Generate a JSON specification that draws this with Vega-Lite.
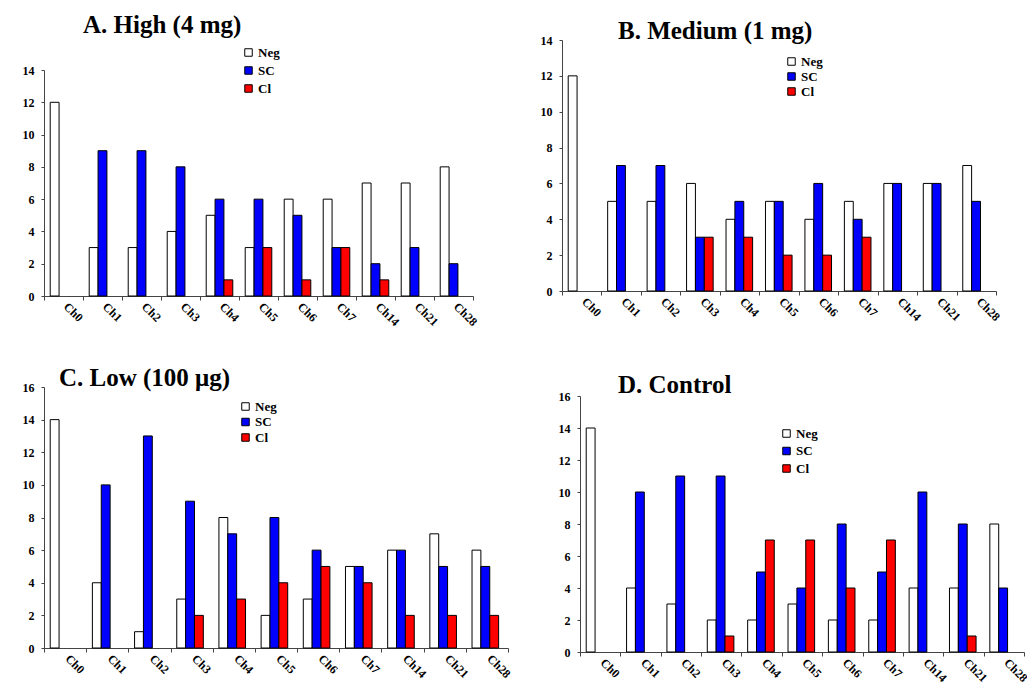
{
  "$schema": "https://vega.github.io/schema/vega-lite/v6.json",
  "background": "white",
  "padding": {"left": 22, "top": 13, "right": 0, "bottom": 0},
  "config": {
    "font": "Liberation Serif",
    "view": {"stroke": null},
    "axis": {"labelFont": "Liberation Serif", "labelFontWeight": "bold", "labelColor": "#000", "domainColor": "#444", "tickColor": "#444", "grid": false, "title": null},
    "axisX": {"labelAngle": 45, "labelAlign": "left", "labelBaseline": "bottom", "labelFontSize": 12, "labelPadding": 9, "labelOffset": -3, "tickBand": "extent", "tickSize": 4},
    "axisY": {"labelFontSize": 12, "tickSize": 3, "labelPadding": 7},
    "legend": {"orient": "none", "title": null, "symbolType": "square", "symbolSize": 56, "symbolStrokeColor": "#000", "symbolStrokeWidth": 1, "labelFont": "Liberation Serif", "labelFontWeight": "bold", "labelFontSize": 13, "labelColor": "#000", "labelOffset": 3, "padding": 0},
    "title": {"font": "Liberation Serif", "fontWeight": "bold", "fontSize": 25, "color": "#000", "anchor": "start", "frame": "group", "baseline": "alphabetic"},
    "bar": {"stroke": "#000", "strokeWidth": 1}
  },
  "datasets": {
    "counts": [
      {"panel": "A", "ch": "Ch0", "type": "Neg", "value": 12},
      {"panel": "A", "ch": "Ch1", "type": "Neg", "value": 3},
      {"panel": "A", "ch": "Ch1", "type": "SC", "value": 9},
      {"panel": "A", "ch": "Ch2", "type": "Neg", "value": 3},
      {"panel": "A", "ch": "Ch2", "type": "SC", "value": 9},
      {"panel": "A", "ch": "Ch3", "type": "Neg", "value": 4},
      {"panel": "A", "ch": "Ch3", "type": "SC", "value": 8},
      {"panel": "A", "ch": "Ch4", "type": "Neg", "value": 5},
      {"panel": "A", "ch": "Ch4", "type": "SC", "value": 6},
      {"panel": "A", "ch": "Ch4", "type": "Cl", "value": 1},
      {"panel": "A", "ch": "Ch5", "type": "Neg", "value": 3},
      {"panel": "A", "ch": "Ch5", "type": "SC", "value": 6},
      {"panel": "A", "ch": "Ch5", "type": "Cl", "value": 3},
      {"panel": "A", "ch": "Ch6", "type": "Neg", "value": 6},
      {"panel": "A", "ch": "Ch6", "type": "SC", "value": 5},
      {"panel": "A", "ch": "Ch6", "type": "Cl", "value": 1},
      {"panel": "A", "ch": "Ch7", "type": "Neg", "value": 6},
      {"panel": "A", "ch": "Ch7", "type": "SC", "value": 3},
      {"panel": "A", "ch": "Ch7", "type": "Cl", "value": 3},
      {"panel": "A", "ch": "Ch14", "type": "Neg", "value": 7},
      {"panel": "A", "ch": "Ch14", "type": "SC", "value": 2},
      {"panel": "A", "ch": "Ch14", "type": "Cl", "value": 1},
      {"panel": "A", "ch": "Ch21", "type": "Neg", "value": 7},
      {"panel": "A", "ch": "Ch21", "type": "SC", "value": 3},
      {"panel": "A", "ch": "Ch28", "type": "Neg", "value": 8},
      {"panel": "A", "ch": "Ch28", "type": "SC", "value": 2},

      {"panel": "B", "ch": "Ch0", "type": "Neg", "value": 12},
      {"panel": "B", "ch": "Ch1", "type": "Neg", "value": 5},
      {"panel": "B", "ch": "Ch1", "type": "SC", "value": 7},
      {"panel": "B", "ch": "Ch2", "type": "Neg", "value": 5},
      {"panel": "B", "ch": "Ch2", "type": "SC", "value": 7},
      {"panel": "B", "ch": "Ch3", "type": "Neg", "value": 6},
      {"panel": "B", "ch": "Ch3", "type": "SC", "value": 3},
      {"panel": "B", "ch": "Ch3", "type": "Cl", "value": 3},
      {"panel": "B", "ch": "Ch4", "type": "Neg", "value": 4},
      {"panel": "B", "ch": "Ch4", "type": "SC", "value": 5},
      {"panel": "B", "ch": "Ch4", "type": "Cl", "value": 3},
      {"panel": "B", "ch": "Ch5", "type": "Neg", "value": 5},
      {"panel": "B", "ch": "Ch5", "type": "SC", "value": 5},
      {"panel": "B", "ch": "Ch5", "type": "Cl", "value": 2},
      {"panel": "B", "ch": "Ch6", "type": "Neg", "value": 4},
      {"panel": "B", "ch": "Ch6", "type": "SC", "value": 6},
      {"panel": "B", "ch": "Ch6", "type": "Cl", "value": 2},
      {"panel": "B", "ch": "Ch7", "type": "Neg", "value": 5},
      {"panel": "B", "ch": "Ch7", "type": "SC", "value": 4},
      {"panel": "B", "ch": "Ch7", "type": "Cl", "value": 3},
      {"panel": "B", "ch": "Ch14", "type": "Neg", "value": 6},
      {"panel": "B", "ch": "Ch14", "type": "SC", "value": 6},
      {"panel": "B", "ch": "Ch21", "type": "Neg", "value": 6},
      {"panel": "B", "ch": "Ch21", "type": "SC", "value": 6},
      {"panel": "B", "ch": "Ch28", "type": "Neg", "value": 7},
      {"panel": "B", "ch": "Ch28", "type": "SC", "value": 5},

      {"panel": "C", "ch": "Ch0", "type": "Neg", "value": 14},
      {"panel": "C", "ch": "Ch1", "type": "Neg", "value": 4},
      {"panel": "C", "ch": "Ch1", "type": "SC", "value": 10},
      {"panel": "C", "ch": "Ch2", "type": "Neg", "value": 1},
      {"panel": "C", "ch": "Ch2", "type": "SC", "value": 13},
      {"panel": "C", "ch": "Ch3", "type": "Neg", "value": 3},
      {"panel": "C", "ch": "Ch3", "type": "SC", "value": 9},
      {"panel": "C", "ch": "Ch3", "type": "Cl", "value": 2},
      {"panel": "C", "ch": "Ch4", "type": "Neg", "value": 8},
      {"panel": "C", "ch": "Ch4", "type": "SC", "value": 7},
      {"panel": "C", "ch": "Ch4", "type": "Cl", "value": 3},
      {"panel": "C", "ch": "Ch5", "type": "Neg", "value": 2},
      {"panel": "C", "ch": "Ch5", "type": "SC", "value": 8},
      {"panel": "C", "ch": "Ch5", "type": "Cl", "value": 4},
      {"panel": "C", "ch": "Ch6", "type": "Neg", "value": 3},
      {"panel": "C", "ch": "Ch6", "type": "SC", "value": 6},
      {"panel": "C", "ch": "Ch6", "type": "Cl", "value": 5},
      {"panel": "C", "ch": "Ch7", "type": "Neg", "value": 5},
      {"panel": "C", "ch": "Ch7", "type": "SC", "value": 5},
      {"panel": "C", "ch": "Ch7", "type": "Cl", "value": 4},
      {"panel": "C", "ch": "Ch14", "type": "Neg", "value": 6},
      {"panel": "C", "ch": "Ch14", "type": "SC", "value": 6},
      {"panel": "C", "ch": "Ch14", "type": "Cl", "value": 2},
      {"panel": "C", "ch": "Ch21", "type": "Neg", "value": 7},
      {"panel": "C", "ch": "Ch21", "type": "SC", "value": 5},
      {"panel": "C", "ch": "Ch21", "type": "Cl", "value": 2},
      {"panel": "C", "ch": "Ch28", "type": "Neg", "value": 6},
      {"panel": "C", "ch": "Ch28", "type": "SC", "value": 5},
      {"panel": "C", "ch": "Ch28", "type": "Cl", "value": 2},

      {"panel": "D", "ch": "Ch0", "type": "Neg", "value": 14},
      {"panel": "D", "ch": "Ch1", "type": "Neg", "value": 4},
      {"panel": "D", "ch": "Ch1", "type": "SC", "value": 10},
      {"panel": "D", "ch": "Ch2", "type": "Neg", "value": 3},
      {"panel": "D", "ch": "Ch2", "type": "SC", "value": 11},
      {"panel": "D", "ch": "Ch3", "type": "Neg", "value": 2},
      {"panel": "D", "ch": "Ch3", "type": "SC", "value": 11},
      {"panel": "D", "ch": "Ch3", "type": "Cl", "value": 1},
      {"panel": "D", "ch": "Ch4", "type": "Neg", "value": 2},
      {"panel": "D", "ch": "Ch4", "type": "SC", "value": 5},
      {"panel": "D", "ch": "Ch4", "type": "Cl", "value": 7},
      {"panel": "D", "ch": "Ch5", "type": "Neg", "value": 3},
      {"panel": "D", "ch": "Ch5", "type": "SC", "value": 4},
      {"panel": "D", "ch": "Ch5", "type": "Cl", "value": 7},
      {"panel": "D", "ch": "Ch6", "type": "Neg", "value": 2},
      {"panel": "D", "ch": "Ch6", "type": "SC", "value": 8},
      {"panel": "D", "ch": "Ch6", "type": "Cl", "value": 4},
      {"panel": "D", "ch": "Ch7", "type": "Neg", "value": 2},
      {"panel": "D", "ch": "Ch7", "type": "SC", "value": 5},
      {"panel": "D", "ch": "Ch7", "type": "Cl", "value": 7},
      {"panel": "D", "ch": "Ch14", "type": "Neg", "value": 4},
      {"panel": "D", "ch": "Ch14", "type": "SC", "value": 10},
      {"panel": "D", "ch": "Ch21", "type": "Neg", "value": 4},
      {"panel": "D", "ch": "Ch21", "type": "SC", "value": 8},
      {"panel": "D", "ch": "Ch21", "type": "Cl", "value": 1},
      {"panel": "D", "ch": "Ch28", "type": "Neg", "value": 8},
      {"panel": "D", "ch": "Ch28", "type": "SC", "value": 4}
    ]
  },
  "data": {"name": "counts"},
  "resolve": {"scale": {"fill": "independent"}, "legend": {"fill": "independent"}},
  "spacing": 38,
  "vconcat": [
    {
      "spacing": 60,
      "resolve": {"scale": {"fill": "independent"}, "legend": {"fill": "independent"}},
      "hconcat": [
        {
          "title": {"text": "A. High (4 mg)", "offset": 2, "dx": 39},
          "width": 429, "height": 256,
          "transform": [{"filter": "datum.panel === 'A'"}],
          "mark": {"type": "bar"},
          "encoding": {
            "x": {"field": "ch", "type": "nominal", "scale": {"domain": ["Ch0","Ch1","Ch2","Ch3","Ch4","Ch5","Ch6","Ch7","Ch14","Ch21","Ch28"], "paddingInner": 0, "paddingOuter": 0}},
            "xOffset": {"field": "type", "type": "nominal", "scale": {"domain": ["Neg","SC","Cl"], "paddingInner": 0, "paddingOuter": 0.7}},
            "y": {"field": "value", "type": "quantitative", "scale": {"domain": [0, 14], "range": [256, 30]}, "axis": {"values": [0,2,4,6,8,10,12,14]}},
            "fill": {"field": "type", "type": "nominal", "scale": {"domain": ["Neg","SC","Cl"], "range": ["#ffffff","#0000ff","#ff0000"]}, "legend": {"legendX": 198, "legendY": 6, "rowPadding": 4}}
          }
        },
        {
          "title": {"text": "B. Medium (1 mg)", "offset": -10, "dx": 56},
          "width": 434, "height": 251,
          "transform": [{"filter": "datum.panel === 'B'"}],
          "mark": {"type": "bar"},
          "encoding": {
            "x": {"field": "ch", "type": "nominal", "scale": {"domain": ["Ch0","Ch1","Ch2","Ch3","Ch4","Ch5","Ch6","Ch7","Ch14","Ch21","Ch28"], "paddingInner": 0, "paddingOuter": 0}},
            "xOffset": {"field": "type", "type": "nominal", "scale": {"domain": ["Neg","SC","Cl"], "paddingInner": 0, "paddingOuter": 0.7}},
            "y": {"field": "value", "type": "quantitative", "scale": {"domain": [0, 14]}, "axis": {"values": [0,2,4,6,8,10,12,14]}},
            "fill": {"field": "type", "type": "nominal", "scale": {"domain": ["Neg","SC","Cl"], "range": ["#ffffff","#0000ff","#ff0000"]}, "legend": {"legendX": 223, "legendY": 15, "rowPadding": 1}}
          }
        }
      ]
    },
    {
      "spacing": 45,
      "resolve": {"scale": {"fill": "independent"}, "legend": {"fill": "independent"}},
      "hconcat": [
        {
          "title": {"text": "C. Low (100 μg)", "offset": -10, "dx": 15},
          "width": 464, "height": 261,
          "transform": [{"filter": "datum.panel === 'C'"}],
          "mark": {"type": "bar"},
          "encoding": {
            "x": {"field": "ch", "type": "nominal", "scale": {"domain": ["Ch0","Ch1","Ch2","Ch3","Ch4","Ch5","Ch6","Ch7","Ch14","Ch21","Ch28"], "paddingInner": 0, "paddingOuter": 0}},
            "xOffset": {"field": "type", "type": "nominal", "scale": {"domain": ["Neg","SC","Cl"], "paddingInner": 0, "paddingOuter": 0.7}},
            "y": {"field": "value", "type": "quantitative", "scale": {"domain": [0, 16]}, "axis": {"values": [0,2,4,6,8,10,12,14,16]}},
            "fill": {"field": "type", "type": "nominal", "scale": {"domain": ["Neg","SC","Cl"], "range": ["#ffffff","#0000ff","#ff0000"]}, "legend": {"legendX": 195, "legendY": 13, "rowPadding": 1.5}}
          }
        },
        {
          "title": {"text": "D. Control", "offset": -11, "dx": 38},
          "width": 444, "height": 265,
          "transform": [{"filter": "datum.panel === 'D'"}],
          "mark": {"type": "bar"},
          "encoding": {
            "x": {"field": "ch", "type": "nominal", "scale": {"domain": ["Ch0","Ch1","Ch2","Ch3","Ch4","Ch5","Ch6","Ch7","Ch14","Ch21","Ch28"], "paddingInner": 0, "paddingOuter": 0}},
            "xOffset": {"field": "type", "type": "nominal", "scale": {"domain": ["Neg","SC","Cl"], "paddingInner": 0, "paddingOuter": 0.7}},
            "y": {"field": "value", "type": "quantitative", "scale": {"domain": [0, 16], "range": [265, 9]}, "axis": {"values": [0,2,4,6,8,10,12,14,16]}},
            "fill": {"field": "type", "type": "nominal", "scale": {"domain": ["Neg","SC","Cl"], "range": ["#ffffff","#0000ff","#ff0000"]}, "legend": {"legendX": 200, "legendY": 40, "rowPadding": 3.5}}
          }
        }
      ]
    }
  ]
}
